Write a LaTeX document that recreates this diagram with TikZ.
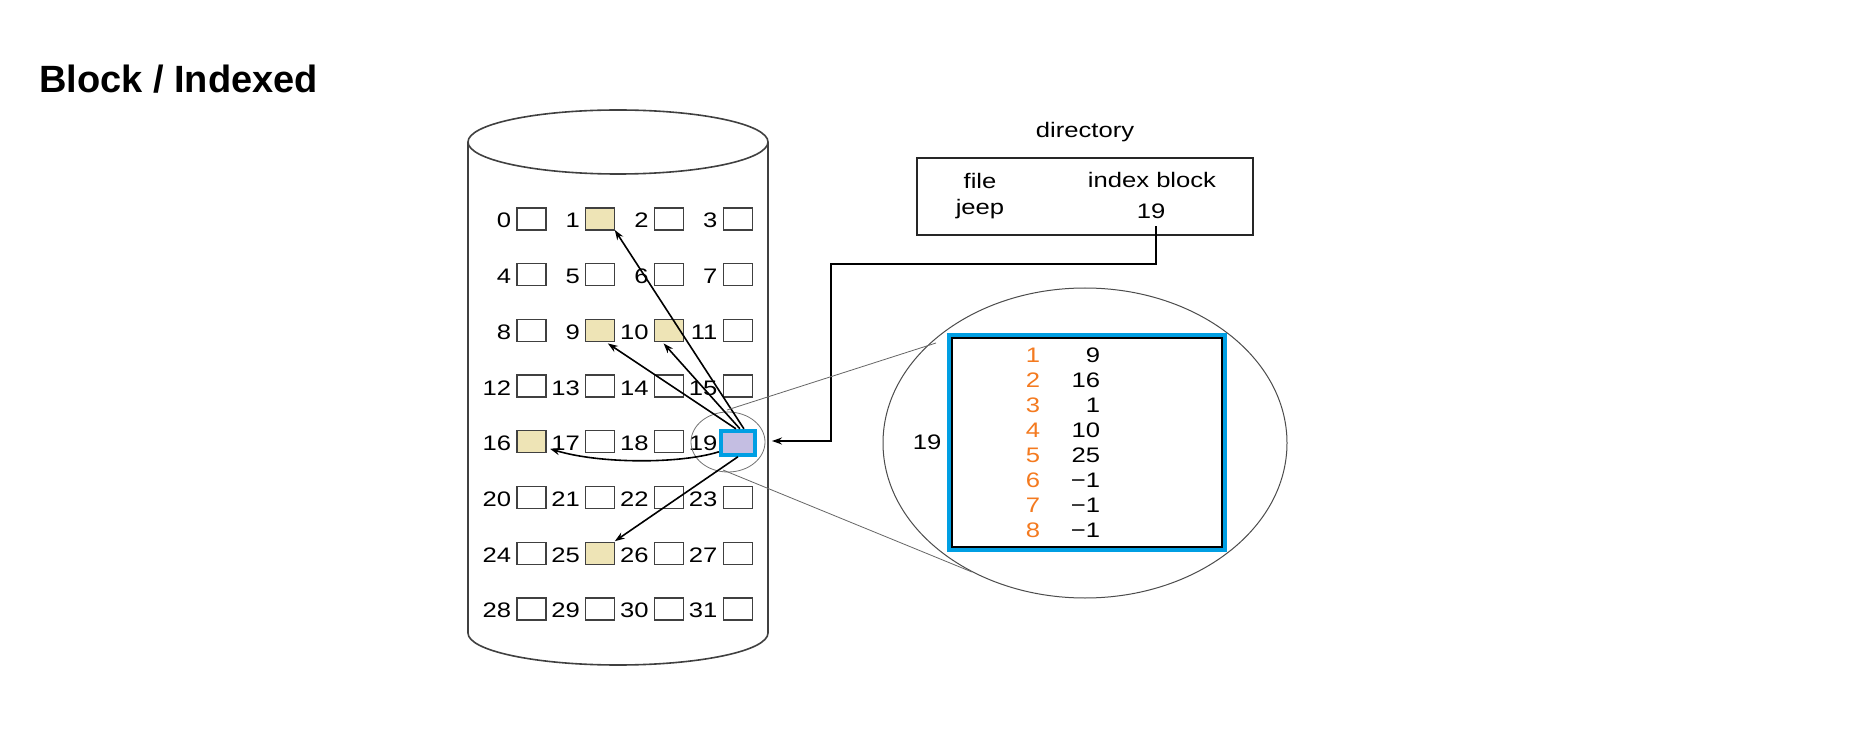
\documentclass[tikz,border=0pt]{standalone}
\usepackage{fontspec}
\usetikzlibrary{arrows.meta,calc,shapes.geometric}
\newfontfamily\diagfont[FakeStretch=1.22]{Liberation Sans}
\newfontfamily\titlefont{Liberation Sans}
\definecolor{blockyellow}{HTML}{EEE4B6}
\definecolor{lav}{HTML}{C4BEE2}
\definecolor{cyanb}{HTML}{009FE3}
\definecolor{orangen}{HTML}{F47A1F}
\tikzset{
  blk/.style={draw=black!75, line width=1.3pt, minimum width=29pt, minimum height=22pt, inner sep=0pt, outer sep=0pt},
  num/.style={font=\diagfont\fontsize{21}{25}\selectfont, inner sep=0pt, outer sep=0pt},
  onum/.style={num, text=orangen},
  arr/.style={draw=black, line width=1.6pt, -{Stealth[length=10pt,width=7pt]}},
  thinl/.style={draw=black!60, line width=0.8pt},
  cyl/.style={draw=black!75, line width=1.6pt},
}
\begin{document}
\begin{tikzpicture}[x=1pt,y=-1pt]
\useasboundingbox (0,0) rectangle (1850,743);
\fill[white] (0,0) rectangle (1850,743);
% title
\node[anchor=base west, inner sep=0pt, font=\titlefont\bfseries\fontsize{38}{44}\selectfont] (title) at (39,93) {Block / Indexed};
% cylinder
\draw[cyl] (618,142) ellipse [x radius=150, y radius=32];
\draw[cyl] (468,142) -- (468,633) arc[start angle=180, end angle=360, x radius=150, y radius=-32] -- (768,142);
% blocks
\foreach \r in {0,...,7} {
  \foreach \c in {0,...,3} {
    \pgfmathtruncatemacro\n{4*\r+\c}
    \pgfmathsetmacro\xl{517+68.8*\c}
    \pgfmathsetmacro\yt{208+55.7*\r}
    \node[blk, anchor=north west] (b\n) at (\xl,\yt) {};
    \node[num, anchor=base east] (n\n) at (\xl-6,\yt+20) {\n};
  }
}
\foreach \k in {1,9,10,16,25} {
  \draw[blk, fill=blockyellow] (b\k.south west) rectangle (b\k.north east);
}
\node[draw=cyanb, line width=4pt, fill=lav, minimum width=34pt, minimum height=24pt, inner sep=0pt] (idx19) at ($(b19.center)+(0,1)$) {};
% small ellipse
\node[draw=black!55, line width=0.8pt, ellipse, minimum width=74pt, minimum height=60pt, inner sep=0pt] (se) at (728,442) {};
% arrows from block 19
\draw[arr] ($(idx19.north)+(6,0)$) -- (b1.south east);
\draw[arr] ($(idx19.north)+(-2,0)$) -- ($(b9.south east)+(-7,2)$);
\draw[arr] ($(idx19.north)+(2,0)$) -- ($(b10.south west)+(9,2)$);
\draw[arr] ($(idx19.west)+(0,9)$) .. controls (680,464) and (600,464) .. ($(b16.east)+(4,7)$);
\draw[arr] (idx19.south) -- ($(b25.north east)+(0,-1)$);
% directory
\node[num, anchor=base] (dirt) at (1085,138) {directory};
\node[draw=black!85, line width=1.5pt, minimum width=336pt, minimum height=77pt, inner sep=0pt] (dir) at (1085,196.5) {};
\node[num, anchor=base] (dfile) at (980,189) {file};
\node[num, anchor=base] (dindex) at (1152,188) {index block};
\node[num, anchor=base] (djeep) at (980,215) {jeep};
\node[num, anchor=base] (d19) at (1151,219) {19};
\coordinate (k1) at (1156,264);
\coordinate (k2) at (831,264);
\coordinate (k3) at (831,441);
\coordinate (tip) at (772,441);
\draw[arr] ($(d19.south)+(5,7)$) -- (k1) -- (k2) -- (k3) -- (tip);
% big ellipse
\node[draw=black!70, line width=1pt, ellipse, minimum width=404pt, minimum height=310pt, inner sep=0pt] (be) at (1085,443) {};
\coordinate (t1a) at (727,410);
\coordinate (t1b) at (936,343);
\coordinate (t2a) at (723,470);
\coordinate (t2b) at (972,572);
\draw[thinl] (t1a) -- (t1b);
\draw[thinl] (t2a) -- (t2b);
% index block
\node[draw=cyanb, line width=5pt, minimum width=275pt, minimum height=214pt, inner sep=0pt] (ib) at (1087,442.5) {};
\node[draw=black, line width=1.3pt, minimum width=270pt, minimum height=209pt, inner sep=0pt] (ibin) at (1087,442.5) {};
\node[num, anchor=base] (l19) at (927,449) {19};
\foreach \i/\v in {1/9,2/16,3/1,4/10,5/25,6/−1,7/−1,8/−1} {
  \pgfmathsetmacro\yb{362+25*(\i-1)}
  \node[onum, anchor=base] (o\i) at (1033,\yb) {\i};
  \node[num, anchor=base east] (v\i) at (1100,\yb) {\v};
}
\end{tikzpicture}
\end{document}
